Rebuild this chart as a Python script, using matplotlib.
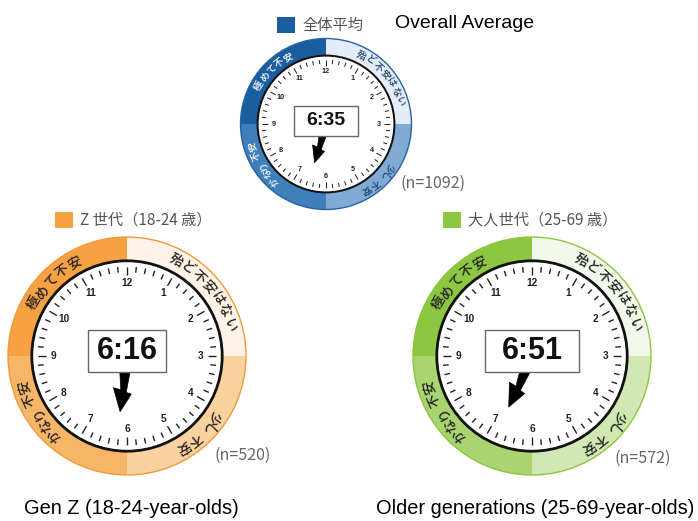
import numpy as np
import matplotlib
matplotlib.use("Agg")
import matplotlib.pyplot as plt
from matplotlib.patches import Wedge, Circle, Rectangle, Polygon
from matplotlib.collections import LineCollection

W, H = 698, 521
JP = ["Noto Sans CJK JP", "DejaVu Sans"]
EN = ["Liberation Sans", "DejaVu Sans"]

# --- data ---
groups = ["全体平均", "Z 世代（18-24 歳）", "大人世代（25-69 歳）"]
captions = ["Overall Average", "Gen Z (18-24-year-olds)", "Older generations (25-69-year-olds)"]
times = ["6:35", "6:16", "6:51"]
n_resp = [1092, 520, 572]
# ring quadrants, clockwise from 12 o'clock
levels = ["殆ど不安はない", "少し不安", "かなり不安", "極めて不安"]
hour_labels = [str(h) for h in range(1, 13)]

# colours per quadrant (same order as levels) + outline
pal_blue = ["#E4EDF7", "#80ABD5", "#3F7FBC", "#1B5E9F"]
pal_orange = ["#FEF3E6", "#F9D29F", "#F7B567", "#F5A144"]
pal_green = ["#F2F8EA", "#D2E8B3", "#AAD46F", "#8DC640"]
palettes = [pal_blue, pal_orange, pal_green]
outlines = ["#2563A3", "#F29A3A", "#8CC63F"]
txtcols = [["#1B3F6A", "#1B3F6A", "white", "white"],
           ["#222222"] * 4, ["#222222"] * 4]

# --- layout (pixels, y from top) ---
centers = [(326, 124), (127, 356), (532, 356)]
r_outer = [85.5, 119, 119]
box_w = [0.93, 0.81, 0.98]
time_fs = [14, 22, 22]
legend_xy = [(277, 17), (55, 212), (443, 212)]
n_xy = [(400, 183), (215, 455), (615, 458)]
cap_xy = [(395, 24), (131, 509), (535, 509)]
label_mid = [50, 137, 238, 315]  # centre angle of each ring text


def Y(y):
    return H - y


fig = plt.figure(figsize=(W / 100, H / 100), dpi=100)
ax = fig.add_axes([0, 0, 1, 1])
ax.set_xlim(0, W)
ax.set_ylim(0, H)
ax.set_aspect("equal")
ax.axis("off")


def draw_clock(i):
    cx, cy = centers[i][0], Y(centers[i][1])
    Ro = r_outer[i]
    Ri = 0.8 * Ro
    s = Ro / 119
    pal = palettes[i]
    # ring quadrants (mpl angles, ccw from +x)
    spans = [(0, 90), (270, 360), (180, 270), (90, 180)]
    for (a1, a2), col in zip(spans, pal):
        ax.add_patch(Wedge((cx, cy), Ro, a1, a2, width=Ro - Ri, fc=col, ec="none", zorder=1))
    ax.add_patch(Circle((cx, cy), Ro, fill=False, ec=outlines[i], lw=1.0, zorder=2))
    ax.add_patch(Circle((cx, cy), Ri, fc="white", ec="#111111", lw=2.0 * s, zorder=2))

    # curved ring text, tops pointing outward, read clockwise
    rt = (Ri + Ro) / 2
    step = 7.7
    for lab, mid, tc in zip(levels, label_mid, txtcols[i]):
        n = len(lab)
        for k, ch in enumerate(lab):
            th = mid + (k - (n - 1) / 2) * step
            t = np.radians(th)
            ax.text(cx + rt * np.sin(t), cy + rt * np.cos(t), ch, rotation=-th,
                    rotation_mode="anchor", ha="center", va="center",
                    fontsize=9.8 * s, color=tc, family=JP, fontweight="medium", zorder=3)

    # minute ticks
    segs = []
    for m in range(60):
        t = np.radians(m * 6)
        r1 = 0.85 * Ri if m % 5 == 0 else 0.88 * Ri
        r2 = 0.94 * Ri
        segs.append([(cx + r1 * np.sin(t), cy + r1 * np.cos(t)),
                     (cx + r2 * np.sin(t), cy + r2 * np.cos(t))])
    ax.add_collection(LineCollection(segs, colors="#222222", linewidths=1.0 * s, zorder=3))
    for h, lab in enumerate(hour_labels, start=1):
        t = np.radians(h * 30)
        r = 0.77 * Ri
        ax.text(cx + r * np.sin(t), cy + r * np.cos(t), lab, ha="center", va="center",
                fontsize=7.3 * s, fontweight="bold", color="#222222", family=EN, zorder=3)

    # hour hand as a bolt arrow
    hh, mm = map(int, times[i].split(":"))
    th = np.radians((hh + mm / 60) * 30)
    d = np.array([np.sin(th), np.cos(th)])
    p = np.array([np.cos(th), -np.sin(th)])
    shape = [(0.16, -0.055), (0.16, 0.055), (0.36, 0.015), (0.35, 0.095),
             (0.59, -0.01), (0.39, -0.1), (0.38, -0.045)]
    pts = [(cx, cy) + Ri * (u * d + v * p) for u, v in shape]
    ax.add_patch(Polygon(pts, closed=True, fc="black", ec="black", lw=0.5, zorder=4))

    # time box
    bw, bh = box_w[i] * Ri, 0.44 * Ri
    by = cy + 0.05 * Ri
    ax.add_patch(Rectangle((cx - bw / 2, by - bh / 2), bw, bh, fc="white",
                           ec="#666666", lw=1.0, zorder=5))
    ax.text(cx, by, times[i], ha="center", va="center", fontsize=time_fs[i],
            fontweight="bold", color="#111111", family=EN, zorder=6)

    # legend swatch + group name
    lx, ly = legend_xy[i]
    ax.add_patch(Rectangle((lx, Y(ly + 16)), 18, 16, fc=pal[3], ec="none"))
    ax.text(lx + 25, Y(ly + 8), groups[i], ha="left", va="center", fontsize=11,
            color="#555555", family=JP)

    # sample size
    nx, ny = n_xy[i]
    ax.text(nx, Y(ny), f"(n={n_resp[i]})", ha="left", va="center", fontsize=11.5,
            color="#666666", family=JP)


for i in range(3):
    draw_clock(i)

# captions
ax.text(cap_xy[0][0], Y(cap_xy[0][1]), captions[0], ha="left", va="center",
        fontsize=14, color="black", family=EN)
for i in (1, 2):
    ax.text(cap_xy[i][0], Y(cap_xy[i][1]), captions[i], ha="center", va="center",
            fontsize=14.4, color="black", family=EN)

fig.savefig("out.png", dpi=100)
